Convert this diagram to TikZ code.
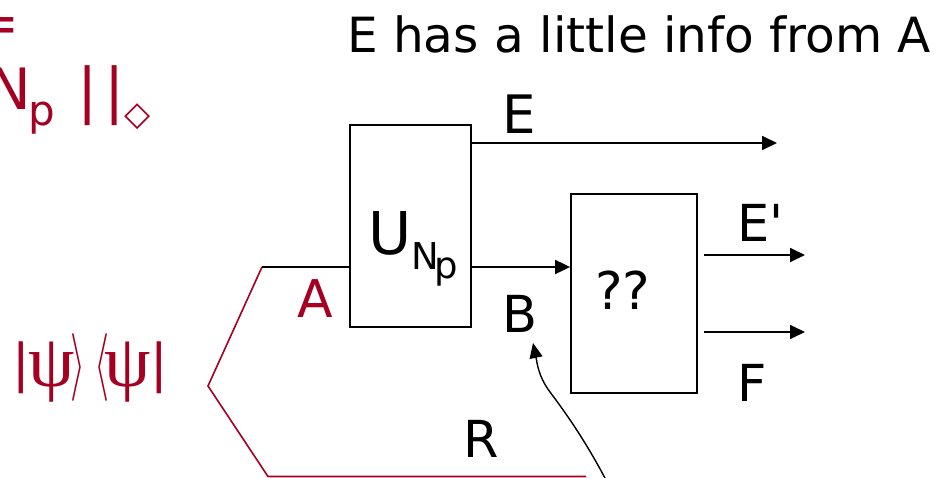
\documentclass[tikz,border=0pt]{standalone}
\usepackage{graphicx}
\usepackage{fontspec}
\setmainfont{DejaVu Sans}
\newfontfamily\psifont{Liberation Serif}
\usetikzlibrary{arrows.meta}
\definecolor{mred}{RGB}{165,0,33}
\newcommand{\fs}[1]{\fontsize{#1}{#1}\selectfont}
\tikzset{
  lbl/.style={anchor=base west, inner sep=0pt},
  glyph/.style={inner sep=0pt, text=mred},
  box/.style={draw, line width=1.8pt, inner sep=0pt},
  wire/.style={line width=1.8pt},
  arr/.style={wire, -{Triangle[length=15pt,width=14pt]}},
  redwire/.style={draw=mred, line width=1.6pt},
}
\begin{document}
\begin{tikzpicture}[x=1pt,y=-1pt]
\useasboundingbox (0,0) rectangle (938,478);
% top-left partial formula
\node[anchor=base east, glyph] (eq) at (20,43) {\fs{55}=};
\node[anchor=base east, glyph] (n) at (31,110) {\fs{57}N};
\node[lbl, text=mred] (np) at (28,126) {\fs{42}p};
\node[glyph] (bar1) at (88,95.5) {\fs{60}|};
\node[glyph] (bar2) at (115,95.5) {\fs{60}|};
\node[glyph] (dia) at (137.5,117) {\fs{34}◇};
% psi
\node[glyph] (pb1) at (21,368) {\fs{52}|};
\node[glyph] (ps1) at (52,372) {\fs{74}\psifont ψ};
\node[glyph] (ra) at (78.5,367.5) {\resizebox{15pt}{51pt}{$\rangle$}};
\node[glyph] (la) at (101.5,367.5) {\resizebox{15pt}{51pt}{$\langle$}};
\node[glyph] (ps2) at (128,372) {\fs{74}\psifont ψ};
\node[glyph] (pb2) at (159,368) {\fs{52}|};
% title
\node[lbl] (title) at (347,53) {\fs{48.5}E has a little info from A};
% boxes
\node[box, minimum width=121pt, minimum height=202pt] (U) at (410.5,226) {};
\node[box, minimum width=126pt, minimum height=199pt] (Q) at (634,293.5) {};
\node[lbl] (Ul) at (368,255) {\fs{59}U};
\node[lbl] (UN) at (411,270) {\fs{37}N};
\node[lbl] (Up) at (434,279) {\fs{37}p};
\node[lbl] (Ql) at (595,310) {\fs{52}??};
% labels
\node[lbl] (El) at (502,134) {\fs{53}E};
\node[lbl] (Epl) at (737,242) {\fs{51}E\textquotesingle};
\node[lbl] (Fl) at (737,402) {\fs{51}F};
\node[lbl] (Bl) at (502,333) {\fs{51}B};
\node[lbl] (Rl) at (463,457) {\fs{51}R};
\node[lbl, text=mred] (Al) at (297,318) {\fs{52}A};
% coordinates
\coordinate (ein) at (262,267);
\coordinate (eout) at (777,143);
\coordinate (e2s) at (704,255);
\coordinate (e2e) at (805,255);
\coordinate (fs) at (704,332);
\coordinate (fe) at (805,332);
\coordinate (rv) at (208,386);
\coordinate (rb) at (268,476.5);
\coordinate (re) at (586,476.5);
\coordinate (rfoot) at (606,480);
\coordinate (btip) at (533,343);
% wires
\draw[redwire] (ein) -- (rv) -- (rb) -- (re);
\draw[wire] (ein) -- (ein -| U.west);
\draw[arr] (eout -| U.east) -- (eout);
\draw[arr] (ein -| U.east) -- (ein -| Q.west);
\draw[arr] (e2s) -- (e2e);
\draw[arr] (fs) -- (fe);
\draw[line width=1.4pt, -{Triangle[length=15pt,width=13pt]}] (rfoot) .. controls (585,440) and (565,412) .. (550,392) .. controls (538,376) and (537,362) .. (btip);
\end{tikzpicture}
\end{document}
